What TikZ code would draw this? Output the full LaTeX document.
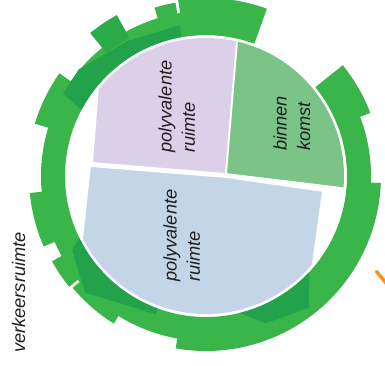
\documentclass[tikz,border=0pt]{standalone}
\usepackage{fontspec}
\setmainfont{Liberation Sans}
\usetikzlibrary{calc}

\definecolor{ringgreen}{HTML}{3AB54A}
\definecolor{ringdark}{HTML}{22A24A}
\definecolor{tabmid}{HTML}{2DAB4A}
\definecolor{entrygreen}{HTML}{7AC488}
\definecolor{roomlilac}{HTML}{DCD0E8}
\definecolor{roomblue}{HTML}{C3D5E6}
\definecolor{markorange}{HTML}{F7941D}

% annular sector: start angle, end angle, inner radius, outer radius, fill options
\newcommand{\ringseg}[5]{\fill[#5] (#1:#3) arc[start angle=#1,end angle=#2,radius=#3]
  -- (#2:#4) arc[start angle=#2,end angle=#1,radius=#4] -- cycle;}

\begin{document}
\begin{tikzpicture}[x=1bp,y=1bp,
  room/.style={draw=white,line width=1.8bp},
  lbl/.style={font=\fontsize{18.3}{23.5}\selectfont\itshape,text=black!88,
    inner sep=0pt,rotate=90,align=left,anchor=base west}]
\useasboundingbox (0,0) rectangle (385,366);
\fill[white] (0,0) rectangle (385,366);

\begin{scope}[shift={(206,190)}]
  % rooms inside the circulation ring
  \begin{scope}
    \clip (0,0) circle[radius=138];
    \fill[roomlilac,room] (-103,150) -- (-114,13) -- (20,2) -- (34,170) -- cycle;
    \fill[entrygreen,room] (34,170) -- (20,2) -- (144,-13) -- (170,-16) -- (170,170) -- cycle;
    \fill[roomblue,room] (-116,10) -- (20,-1) -- (117,-15) -- (107,-87) -- (98,-170)
      -- (-136,-170) -- (-124,-64) -- cycle;
  \end{scope}

  % circulation ring with its gap at the entrance
  \ringseg{70}{399}{141}{165}{ringgreen}
  % outer tabs
  \ringseg{21}{39}{141}{176}{ringgreen}
  \ringseg{70}{99}{141}{178}{ringgreen}
  \ringseg{100}{107}{160}{176}{ringgreen}
  \ringseg{145}{163}{160}{179}{ringgreen}
  \ringseg{185.5}{203.5}{160}{177}{ringgreen}
  \ringseg{209}{219}{160}{176}{ringgreen}
  \ringseg{220}{238}{160}{174}{ringgreen}
  \ringseg{260}{357.7}{160}{175}{ringgreen}
  \ringseg{119}{129}{158}{184}{tabmid}

  % darker overlapping bands
  \fill[ringdark] (152:141) arc[start angle=152,end angle=100,radius=141]
    -- (100:153) -- (120:156) -- (140:166) -- (150:165) -- cycle;
  \fill[ringdark] (206:141) arc[start angle=206,end angle=250,radius=141]
    -- (250:147) -- (224:168) -- (209:153) -- cycle;
  \fill[ringdark] (284:141) arc[start angle=284,end angle=317,radius=141]
    -- (308:167) -- (292:159) -- cycle;
\end{scope}

% labels (anchored at the start of the last line)
\node[lbl] (lilac) at (195,213) {polyvalente\\ruimte};
\node[lbl] (blue) at (200,84) {polyvalente\\ruimte};
\node[lbl] (entry) at (310,215) {binnen\\komst};
\node[lbl] (traffic) at (25,13) {verkeersruimte};

% orange marker at the edge
\coordinate (m1) at (376.5,94.5);
\coordinate (m2) at (388,80.5);
\draw[markorange,line width=3.5bp,line cap=round] (m1) -- (m2);
\end{tikzpicture}
\end{document}
